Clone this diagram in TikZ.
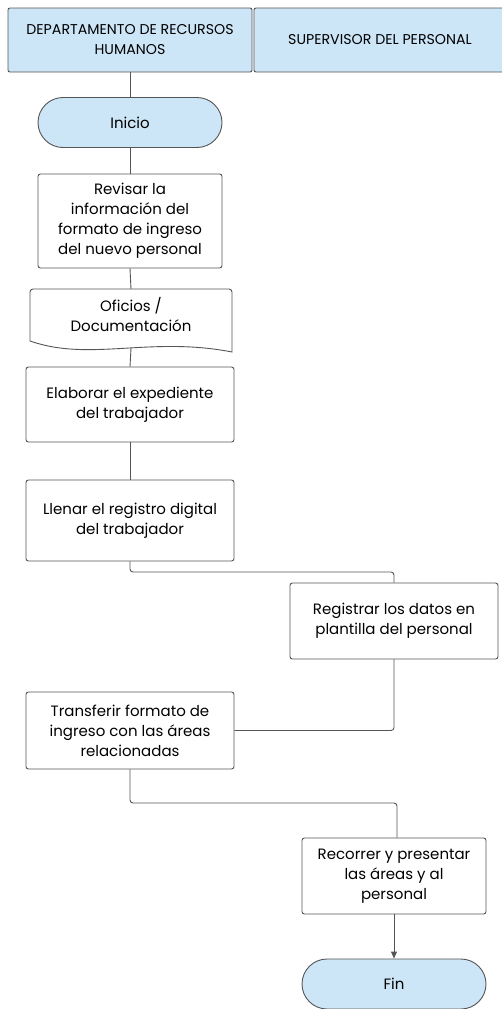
\documentclass[tikz,border=0pt]{standalone}
\usepackage{fontspec}
\setmainfont{Poppins}
\usetikzlibrary{arrows.meta}
\definecolor{hdrblue}{HTML}{CCE5F7}
\definecolor{edge}{HTML}{555555}
\begin{document}
\begin{tikzpicture}[x=1pt,y=-1pt,
  base/.style={draw=edge, line width=0.9pt, align=center, inner sep=0pt, font=\fontsize{15}{20}\selectfont},
  header/.style={base, fill=hdrblue, rounded corners=2pt, font=\fontsize{14.2}{20}\selectfont},
  stepbox/.style={base, fill=white, rounded corners=2.5pt},
  term/.style={base, fill=hdrblue, rounded corners=25pt, minimum width=184pt, minimum height=50pt},
  conn/.style={draw=edge, line width=0.9pt, rounded corners=3pt}
]
\useasboundingbox (0,0) rectangle (502,1009);
\fill[white] (0,0) rectangle (502,1009);
% headers
\node[header, minimum width=244pt, minimum height=64pt] (h1) at (130,40) {DEPARTAMENTO DE RECURSOS\\HUMANOS};
\node[header, minimum width=252pt, minimum height=64pt] (h2) at (380,40) {SUPERVISOR DEL PERSONAL};
% nodes
\node[term] (ini) at (130,122.5) {Inicio};
\node[stepbox, minimum width=184pt, minimum height=94pt] (rev) at (130,221) {Revisar la\\información del\\formato de ingreso\\del nuevo personal};
% document shape
\coordinate (dtop) at (131,289);
\draw[draw=edge, line width=0.9pt, fill=white]
  (30,292) -- (30,341) .. controls (90,362) and (150,336) .. (232,352) -- (232,292)
  arc[start angle=0,end angle=90,radius=3pt] -- (33,289) arc[start angle=90,end angle=180,radius=3pt] -- cycle;
\node[base, draw=none] (doc) at (131,314) {Oficios /\\Documentación};
\coordinate (dbot) at (131,348);
\node[stepbox, minimum width=208pt, minimum height=75pt] (ela) at (130,404.5) {Elaborar el expediente\\del trabajador};
\node[stepbox, minimum width=208pt, minimum height=81pt] (lle) at (130,520.5) {Llenar el registro digital\\del trabajador};
\node[stepbox, minimum width=208pt, minimum height=76pt] (reg) at (394,621) {Registrar los datos en\\plantilla del personal};
\node[stepbox, minimum width=208pt, minimum height=77pt] (tra) at (130,730.5) {Transferir formato de\\ingreso con las áreas\\relacionadas};
\node[stepbox, minimum width=184pt, minimum height=76pt] (rec) at (394,876) {Recorrer y presentar\\las áreas y al\\personal};
\node[term] (fin) at (394,984) {Fin};
% connectors
\draw[conn] (h1.south) -- (ini.north);
\draw[conn] (ini.south) -- (rev.north);
\draw[conn] (rev.south) -- (dtop);
\draw[conn] (dbot) -- (ela.north);
\draw[conn] (ela.south) -- (lle.north);
\draw[conn] (lle.south) |- (262,572) -| (reg.north);
\draw[conn] (reg.south) |- (tra.east);
\draw[conn] (tra.south) |- (262,803) -| ([xshift=3pt]rec.north);
\draw[draw=edge, line width=0.9pt, -{Triangle[length=7pt,width=6pt]}] (rec.south) -- (fin.north);
\end{tikzpicture}
\end{document}
